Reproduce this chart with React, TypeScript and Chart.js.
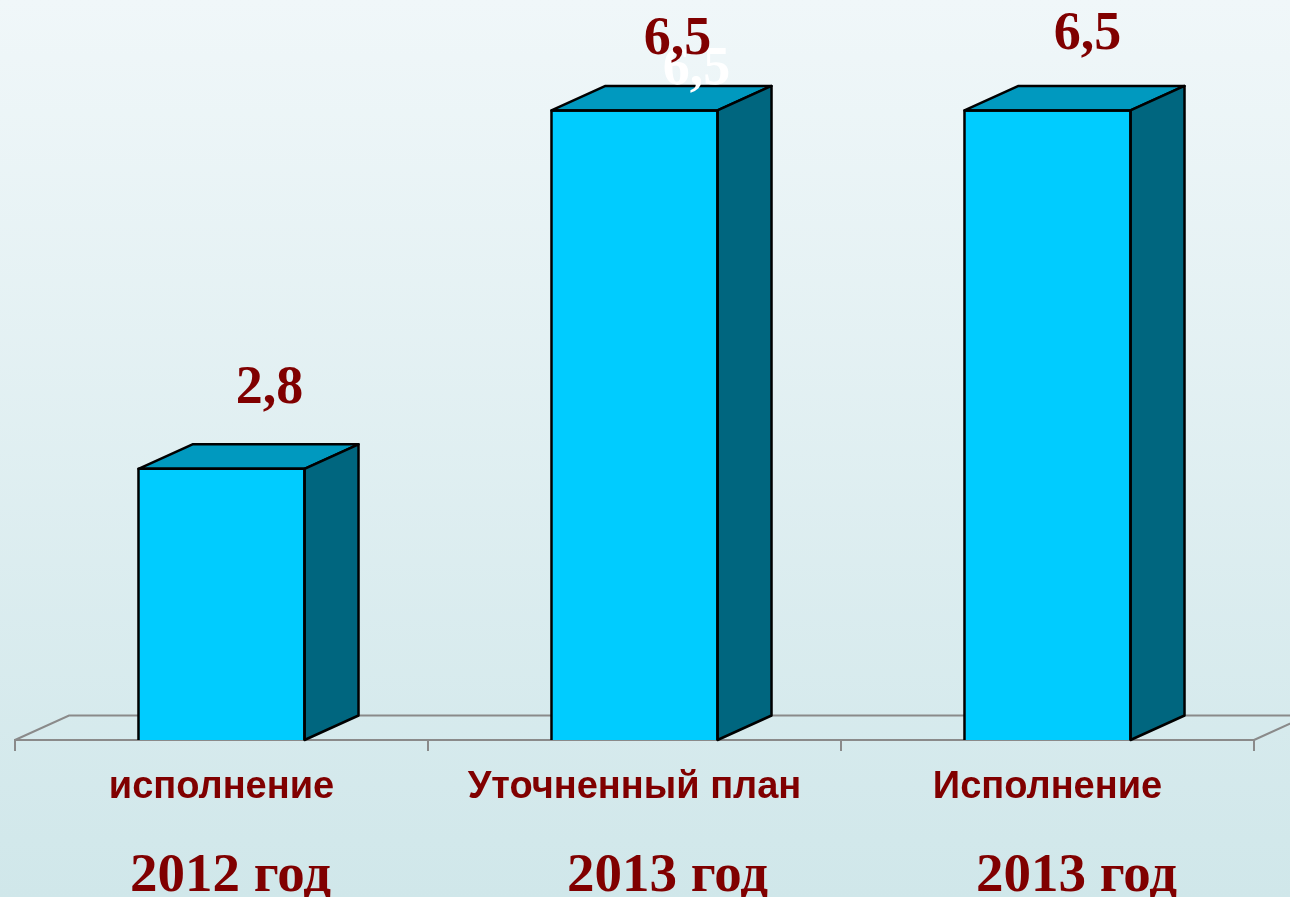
import React, { useEffect, useRef } from "react";
import { Chart, registerables } from "chart.js";

Chart.register(...registerables);

const categories: string[] = ["исполнение", "Уточненный план", "Исполнение"];
const years: string[] = ["2012 год", "2013 год", "2013 год"];
const values: number[] = [2.8, 6.5, 6.5];
const valueLabels: string[] = ["2,8", "6,5", "6,5"];

const DARK_RED = "#800000";
const DEPTH_X = 54;
const DEPTH_Y = -24.5;

const bar3dPlugin = {
  id: "bar3d",
  beforeDatasetsDraw(chart: any) {
    const { ctx, chartArea } = chart;
    const { left, right, bottom } = chartArea;
    ctx.save();
    ctx.strokeStyle = "#8a8a8a";
    ctx.lineWidth = 2;
    ctx.beginPath();
    ctx.moveTo(left, bottom);
    ctx.lineTo(left + DEPTH_X, bottom + DEPTH_Y);
    ctx.lineTo(right + DEPTH_X, bottom + DEPTH_Y);
    ctx.moveTo(right, bottom);
    ctx.lineTo(right + DEPTH_X, bottom + DEPTH_Y);
    ctx.stroke();
    ctx.restore();
  },
  afterDatasetsDraw(chart: any) {
    const { ctx } = chart;
    const meta = chart.getDatasetMeta(0);
    ctx.save();
    ctx.lineWidth = 2.5;
    ctx.strokeStyle = "#000";
    ctx.lineJoin = "round";
    meta.data.forEach((bar: any) => {
      const { x, y, base, width } = bar.getProps(["x", "y", "base", "width"], true);
      const l = x - width / 2;
      const r = x + width / 2;
      // top face
      ctx.fillStyle = "#0099BF";
      ctx.beginPath();
      ctx.moveTo(l, y);
      ctx.lineTo(l + DEPTH_X, y + DEPTH_Y);
      ctx.lineTo(r + DEPTH_X, y + DEPTH_Y);
      ctx.lineTo(r, y);
      ctx.closePath();
      ctx.fill();
      ctx.stroke();
      // side face
      ctx.fillStyle = "#00667F";
      ctx.beginPath();
      ctx.moveTo(r, y);
      ctx.lineTo(r + DEPTH_X, y + DEPTH_Y);
      ctx.lineTo(r + DEPTH_X, base + DEPTH_Y);
      ctx.lineTo(r, base);
      ctx.closePath();
      ctx.fill();
      ctx.stroke();
      // front outline (left, top, right)
      ctx.beginPath();
      ctx.moveTo(l, base);
      ctx.lineTo(l, y);
      ctx.lineTo(r, y);
      ctx.lineTo(r, base);
      ctx.stroke();
    });
    ctx.restore();
  },
  afterDraw(chart: any) {
    const { ctx } = chart;
    const meta = chart.getDatasetMeta(0);
    const xScale = chart.scales.x;
    const labelNudge = [
      [48, -66],
      [43, -56],
      [40, -61],
    ];
    const yearNudge = [9, 33, 29];
    ctx.save();
    ctx.textAlign = "center";
    ctx.textBaseline = "alphabetic";
    ctx.font = "bold 54px 'Liberation Serif', 'Times New Roman', serif";
    // ghost white duplicate label on the middle bar
    const mid = meta.data[1];
    if (mid) {
      ctx.fillStyle = "#ffffff";
      ctx.fillText(valueLabels[1], mid.x + 62, mid.y - 26);
    }
    meta.data.forEach((bar: any, i: number) => {
      ctx.fillStyle = DARK_RED;
      ctx.fillText(valueLabels[i], bar.x + labelNudge[i][0], bar.y + labelNudge[i][1]);
    });
    ctx.font = "bold 55px 'Liberation Serif', 'Times New Roman', serif";
    years.forEach((yr, i) => {
      const px = xScale.getPixelForValue(i);
      ctx.fillStyle = DARK_RED;
      ctx.fillText(yr, px + yearNudge[i], 891);
    });
    ctx.restore();
  },
};

export default function App() {
  const canvasRef = useRef<HTMLCanvasElement | null>(null);

  useEffect(() => {
    if (!canvasRef.current) return;
    const chart = new Chart(canvasRef.current, {
      type: "bar",
      data: {
        labels: categories,
        datasets: [
          {
            data: values,
            backgroundColor: "#00CCFF",
            borderColor: "#000000",
            borderWidth: 0,
            categoryPercentage: 1,
            barPercentage: 0.402,
          },
        ],
      },
      options: {
        responsive: false,
        animation: false,
        layout: { padding: { left: 15, right: 36, top: 62, bottom: 0 } },
        plugins: { legend: { display: false }, tooltip: { enabled: false } },
        scales: {
          y: {
            display: false,
            min: 0,
            max: 7,
          },
          x: {
            display: true,
            afterFit(scale: any) {
              scale.height = 157;
            },
            grid: {
              offset: true,
              drawOnChartArea: false,
              drawTicks: true,
              tickLength: 11,
              color: "#8a8a8a",
              lineWidth: 2,
            },
            border: { display: true, color: "#8a8a8a", width: 2 },
            ticks: {
              color: DARK_RED,
              padding: 14,
              maxRotation: 0,
              autoSkip: false,
              font: { family: "'Liberation Sans', Arial, sans-serif", size: 38, weight: "bold" },
            },
          },
        },
      },
      plugins: [bar3dPlugin],
    });
    return () => chart.destroy();
  }, []);

  return (
    <div
      style={{
        position: "fixed",
        left: 0,
        top: 0,
        width: 1290,
        height: 897,
        background: "linear-gradient(to bottom, #F0F7F9 0%, #D0E7EA 100%)",
      }}
    >
      <canvas ref={canvasRef} width={1290} height={897} style={{ display: "block" }} />
    </div>
  );
}
